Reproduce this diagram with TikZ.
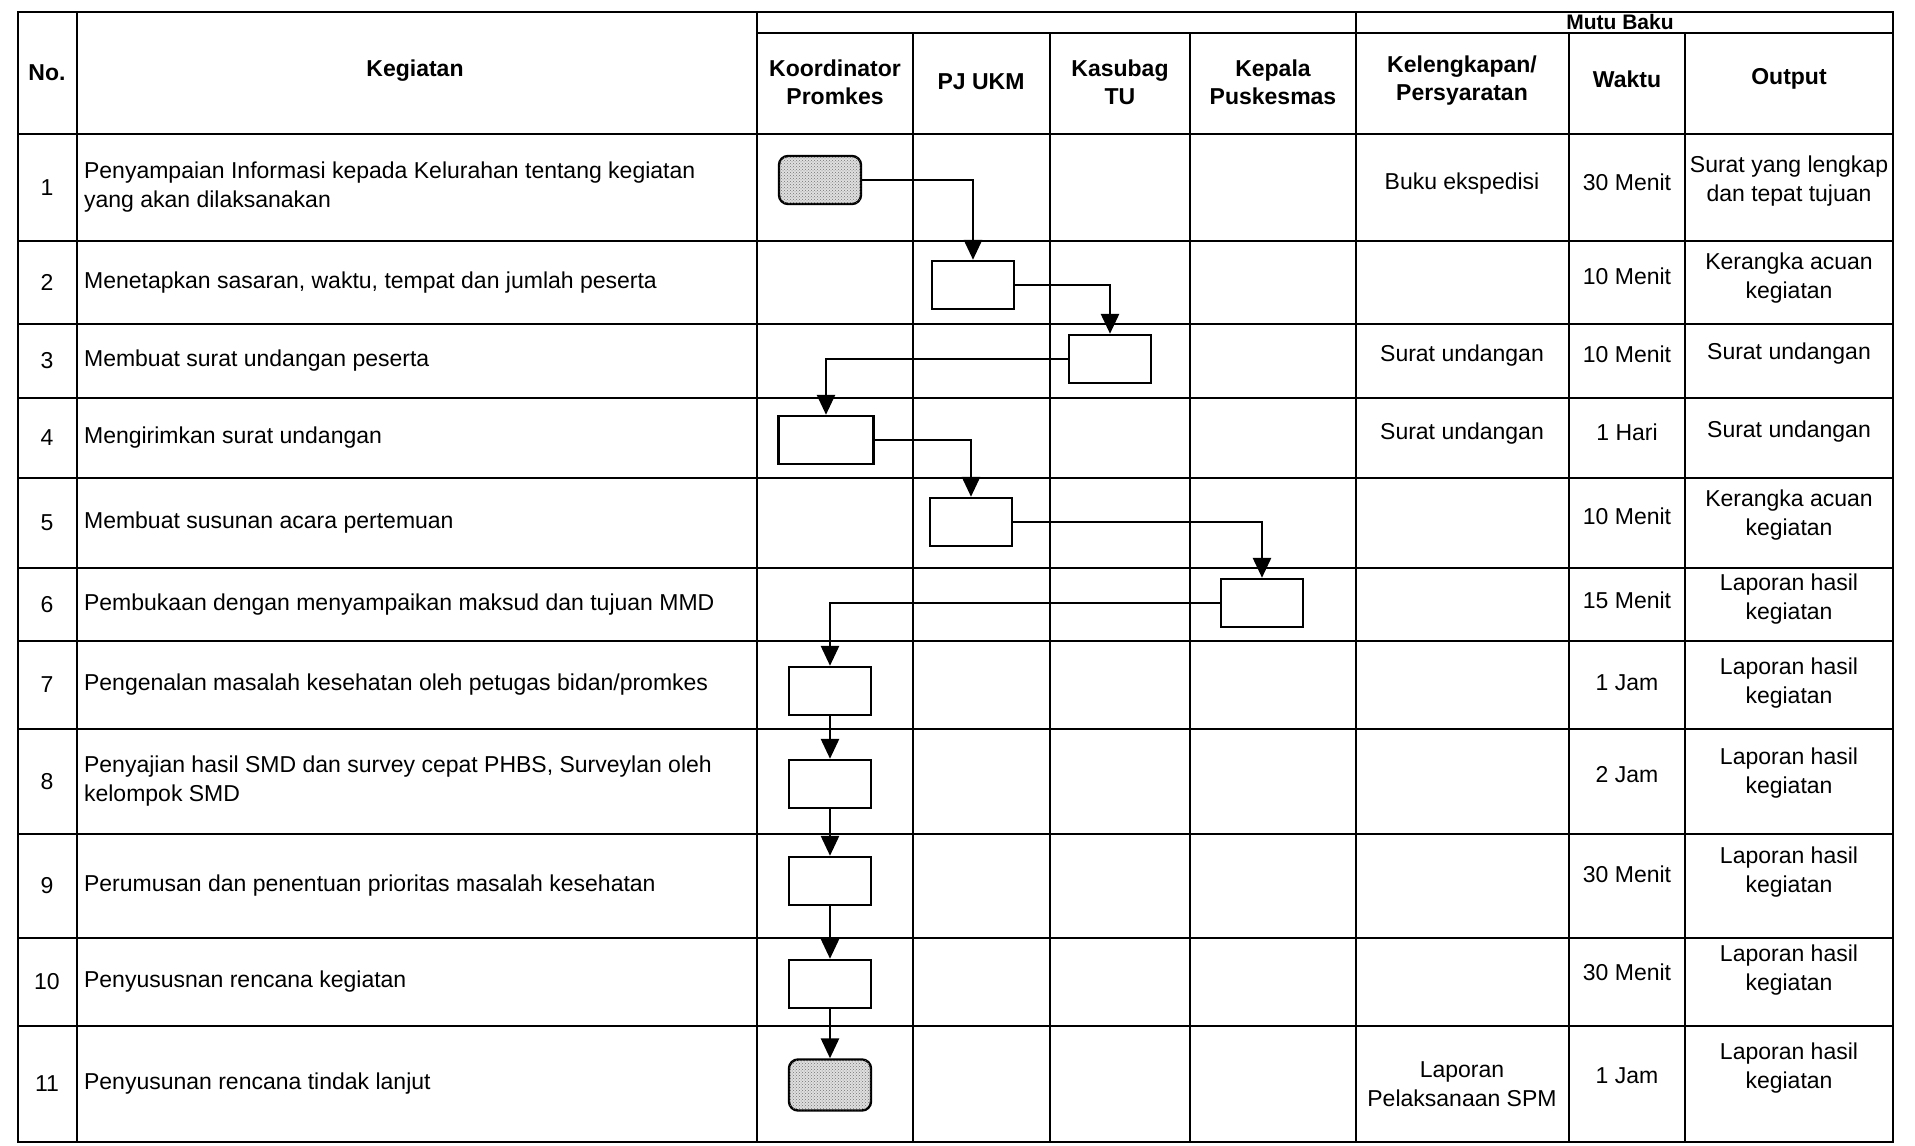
\documentclass[tikz,border=0pt]{standalone}
\usepackage{fontspec}
\setmainfont{Liberation Sans}
\usetikzlibrary{arrows.meta,patterns}
\begin{document}
\begin{tikzpicture}[x=1pt,y=-1pt,line width=2.2pt,
  txt/.style={font=\fontsize{23}{29}\selectfont,align=center,inner sep=0pt},
  keg/.style={txt,align=left,anchor=west},
  hd/.style={txt,font=\fontsize{23}{28}\selectfont\bfseries},
  act/.style={draw,line width=2.4pt,minimum width=82pt,minimum height=48pt,inner sep=0pt},
  ends/.style={act,rounded corners=9pt,fill=gray!25,postaction={pattern=crosshatch dots,pattern color=black!55}},
  flow/.style={line width=2.8pt,-{Triangle[length=20pt,width=18pt]}}]
\fill[white](0,0)rectangle(1915,1146);
\useasboundingbox(0,0)rectangle(1915,1146);
% grid
\draw(18,12)rectangle(1893,1142);
\draw(757,33)--(1893,33);
\foreach \y in {134,241,324,398,478,568,641,729,834,938,1026}{\draw(18,\y)--(1893,\y);}
\foreach \x in {77,757,1356}{\draw(\x,12)--(\x,1142);}
\foreach \x in {913,1050,1190,1569,1685}{\draw(\x,33)--(\x,1142);}
% header
\node[hd](hno) at (47,73){No.};
\node[hd](hkeg) at (415,71){Kegiatan};
\node[hd](hkoor) at (835,82){Koordinator\\Promkes};
\node[hd](hpj) at (981,82){PJ UKM};
\node[hd](htu) at (1120,82){Kasubag\\TU};
\node[hd](hkap) at (1273,82){Kepala\\Puskesmas};
\node[hd](hkel) at (1462,81){Kelengkapan/\\Persyaratan};
\node[hd](hwkt) at (1627,79){Waktu};
\node[hd](hout) at (1789,79){Output};
\node[hd,font=\fontsize{21}{22}\selectfont\bfseries](hmutu) at (1620,22){Mutu Baku};
% numbers
\foreach \n/\y in {1/187.5,2/282.5,3/361,4/438,5/523,6/604.5,7/685,8/781.5,9/886,10/982,11/1084}{\node[txt](no\n) at (47,\y){\n};}
% kegiatan
\node[keg](k1) at (83,187.5){Penyampaian Informasi kepada Kelurahan tentang kegiatan\\yang akan dilaksanakan};
\node[keg](k2) at (83,282.5){Menetapkan sasaran, waktu, tempat dan jumlah peserta};
\node[keg](k3) at (83,361){Membuat surat undangan peserta};
\node[keg](k4) at (83,438){Mengirimkan surat undangan};
\node[keg](k5) at (83,523){Membuat susunan acara pertemuan};
\node[keg](k6) at (83,604.5){Pembukaan dengan menyampaikan maksud dan tujuan MMD};
\node[keg](k7) at (83,685){Pengenalan masalah kesehatan oleh petugas bidan/promkes};
\node[keg](k8) at (83,781.5){Penyajian hasil SMD dan survey cepat PHBS, Surveylan oleh\\kelompok SMD};
\node[keg](k9) at (83,886){Perumusan dan penentuan prioritas masalah kesehatan};
\node[keg](k10) at (83,982){Penyususnan rencana kegiatan};
\node[keg](k11) at (83,1084){Penyusunan rencana tindak lanjut};
% mutu baku
\node[txt](kel1) at (1462,184){Buku ekspedisi};
\node[txt](kel3) at (1462,356){Surat undangan};
\node[txt](kel4) at (1462,434){Surat undangan};
\node[txt](kel11) at (1462,1084){Laporan\\Pelaksanaan SPM};
\node[txt](w1) at (1627,182){30 Menit};
\node[txt](w2) at (1627,276){10 Menit};
\node[txt](w3) at (1627,354){10 Menit};
\node[txt](w4) at (1627,432){1 Hari};
\node[txt](w5) at (1627,516){10 Menit};
\node[txt](w6) at (1627,600){15 Menit};
\node[txt](w7) at (1627,683){1 Jam};
\node[txt](w8) at (1627,775){2 Jam};
\node[txt](w9) at (1627,874){30 Menit};
\node[txt](w10) at (1627,972){30 Menit};
\node[txt](w11) at (1627,1076){1 Jam};
\node[txt](o1) at (1789,181){Surat yang lengkap\\dan tepat tujuan};
\node[txt](o2) at (1789,278){Kerangka acuan\\kegiatan};
\node[txt](o3) at (1789,354){Surat undangan};
\node[txt](o4) at (1789,432){Surat undangan};
\node[txt](o5) at (1789,515){Kerangka acuan\\kegiatan};
\node[txt](o6) at (1789,599){Laporan hasil\\kegiatan};
\node[txt](o7) at (1789,683){Laporan hasil\\kegiatan};
\node[txt](o8) at (1789,773){Laporan hasil\\kegiatan};
\node[txt](o9) at (1789,872){Laporan hasil\\kegiatan};
\node[txt](o10) at (1789,970){Laporan hasil\\kegiatan};
\node[txt](o11) at (1789,1068){Laporan hasil\\kegiatan};
% flow boxes
\node[ends](s1) at (820,180){};
\node[act](s2) at (973,285){};
\node[act](s3) at (1110,359){};
\node[act,minimum width=95pt](s4) at (826,440){};
\node[act](s5) at (971,522){};
\node[act](s6) at (1262,603){};
\node[act](s7) at (830,691){};
\node[act](s8) at (830,784){};
\node[act](s9) at (830,881){};
\node[act](s10) at (830,984){};
\node[ends,minimum height=51pt](s11) at (830,1085){};
% arrows
\draw[flow](s1)-|(s2);
\draw[flow](s2)-|(s3);
\draw[flow](s3)-|(s4);
\draw[flow](s4)-|(s5);
\draw[flow](s5)-|(s6);
\draw[flow](s6)-|(s7);
\foreach \a/\b in {7/8,8/9,9/10,10/11}{\draw[flow](s\a)--(s\b);}
\end{tikzpicture}
\end{document}
